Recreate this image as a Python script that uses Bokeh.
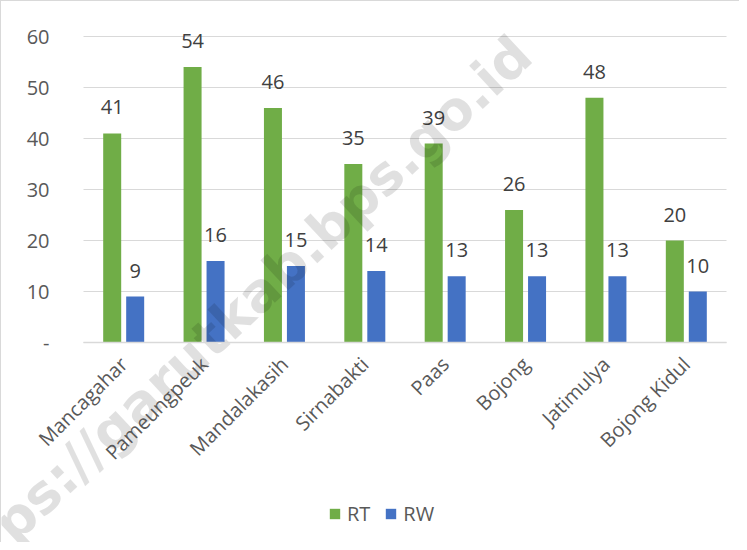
from bokeh.plotting import figure
from bokeh.models import FixedTicker, ColumnDataSource, Legend, LegendItem, Range1d
from bokeh.transform import dodge
from bokeh.core.properties import value
from bokeh.embed import file_html
from bokeh.resources import INLINE
import math

categories = ["Mancagahar", "Pameungpeuk", "Mandalakasih", "Sirnabakti", "Paas", "Bojong", "Jatimulya", "Bojong Kidul"]
rt_values = [41, 54, 46, 35, 39, 26, 48, 20]
rw_values = [9, 16, 15, 14, 13, 13, 13, 10]
y_ticks = [0, 10, 20, 30, 40, 50, 60]
series_names = ["RT", "RW"]
watermark_text = "https://garutkab.bps.go.id"

FONT = "Open Sans"
GREEN = "#70AD47"
BLUE = "#4472C4"
W, H = 739, 542
N = len(categories)
# plot area: categories span px 82..725, y=0 at px 341, y=60 at px 35
PX_PER_CAT = (725 - 82) / N
PX_PER_Y = (341 - 35) / 60
X_START = -82 / PX_PER_CAT
X_END = N + (W - 725) / PX_PER_CAT
Y_MAX = 60 + 35 / PX_PER_Y
Y_MIN = -(H - 341) / PX_PER_Y

x_pos = [i + 0.5 for i in range(N)]

src = ColumnDataSource(dict(
    x=x_pos,
    rt=rt_values,
    rw=rw_values,
    rt_s=[str(v) for v in rt_values],
    rw_s=[str(v) for v in rw_values],
))

p = figure(width=W, height=H, x_range=Range1d(X_START, X_END),
           y_range=Range1d(Y_MIN, Y_MAX), output_backend="svg", toolbar_location=None,
           min_border=0, min_border_left=0, min_border_right=0,
           min_border_top=0, min_border_bottom=0)
p.outline_line_color = None

# horizontal gridlines (only across the category area)
p.segment(x0=0, x1=N, y0=y_ticks, y1=y_ticks, line_color="#d9d9d9", line_width=1.2)

off = 0.143
bw = 0.224
r_rt = p.vbar(x=dodge("x", -off), top="rt", width=bw, source=src,
              fill_color=GREEN, line_color=None)
r_rw = p.vbar(x=dodge("x", off), top="rw", width=bw, source=src,
              fill_color=BLUE, line_color=None)

for col, o in (("rt", -off), ("rw", off)):
    p.text(x=dodge("x", o), y=col, text=col + "_s", source=src,
           text_align="center", text_baseline="alphabetic", y_offset=-26,
           text_font=value(FONT), text_font_size="20px", text_color="#404040")

# watermark
p.text(x=[5.47], y=[58.1], text=[watermark_text], angle=0.75,
       text_align="right", text_baseline="middle", text_font=value("DejaVu Sans"),
       text_font_style="bold", text_font_size="54px", text_color="#000000", text_alpha=0.12)

# y axis drawn at x = 0
p.yaxis.fixed_location = 0
p.yaxis.bounds = (0, 60)
p.yaxis.ticker = FixedTicker(ticks=y_ticks)
p.yaxis.major_label_overrides = {0: "-"}
p.yaxis.axis_line_color = None
p.yaxis.major_tick_line_color = None
p.yaxis.minor_tick_line_color = None
p.yaxis.major_label_standoff = 28
p.yaxis.major_label_text_font = FONT
p.yaxis.major_label_text_font_size = "20px"
p.yaxis.major_label_text_color = "#595959"

# x axis drawn at y = 0
p.xaxis.fixed_location = 0
p.xaxis.bounds = (0, N)
p.xaxis.ticker = FixedTicker(ticks=x_pos)
p.xaxis.major_label_overrides = {x: c for x, c in zip(x_pos, categories)}
p.xaxis.axis_line_color = "#d9d9d9"
p.xaxis.axis_line_width = 1.5
p.xaxis.major_tick_line_color = None
p.xaxis.minor_tick_line_color = None
p.xaxis.major_label_orientation = math.pi / 4
p.xaxis.major_label_standoff = 12
p.xaxis.major_label_text_font = FONT
p.xaxis.major_label_text_font_size = "20px"
p.xaxis.major_label_text_color = "#595959"

p.xgrid.grid_line_color = None
p.ygrid.grid_line_color = None

legend = Legend(items=[LegendItem(label=series_names[0], renderers=[r_rt]),
                       LegendItem(label=series_names[1], renderers=[r_rw])],
                location=(327, 16), orientation="horizontal",
                glyph_width=13, glyph_height=13, label_standoff=6, spacing=14,
                padding=0, margin=0, border_line_color=None, background_fill_alpha=0,
                label_text_font=FONT, label_text_font_size="20px", label_text_color="#595959")
p.add_layout(legend, "center")

p.styles = {"border-left": "1px solid #d9d9d9", "border-top": "1px solid #d9d9d9"}

open("out.html", "w").write(file_html(p, INLINE))
